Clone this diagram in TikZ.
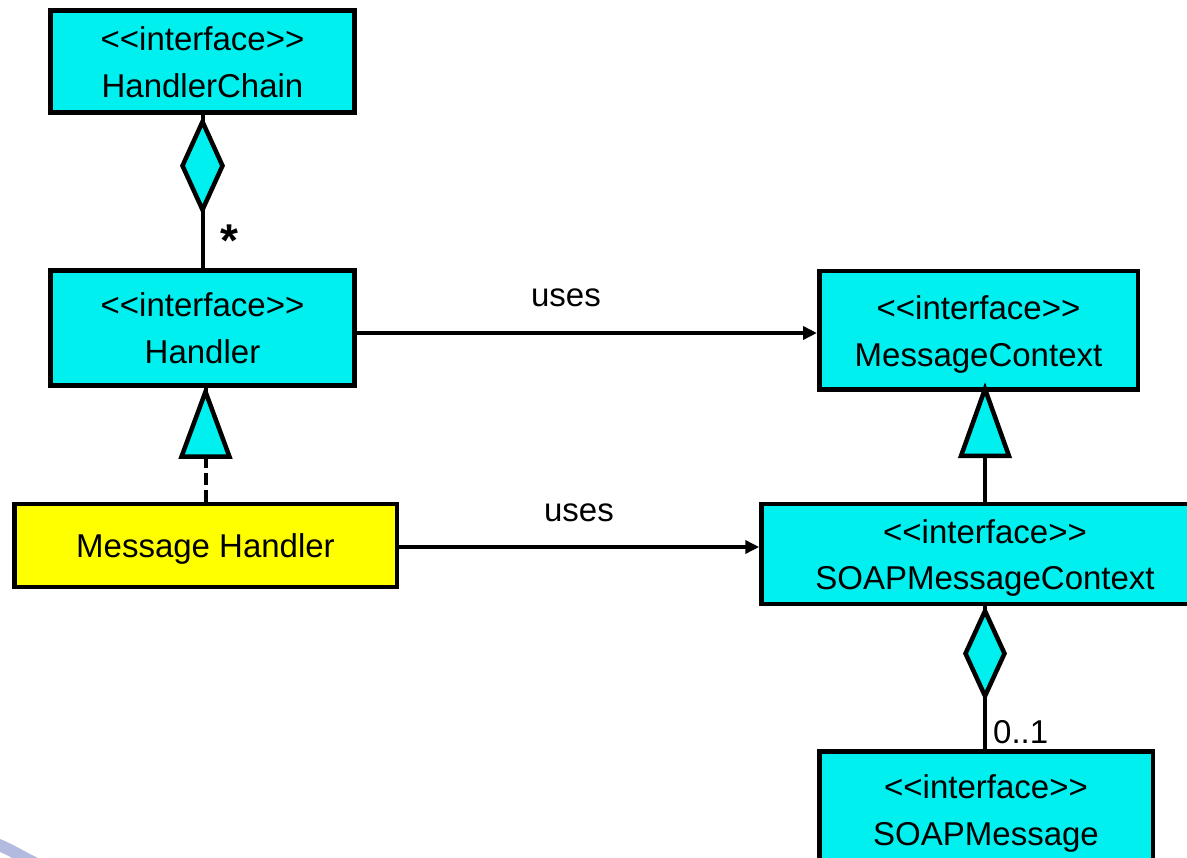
\documentclass[tikz,border=0pt]{standalone}
\usepackage{fontspec}
\setmainfont{Liberation Sans}
\usetikzlibrary{arrows.meta,calc}
\definecolor{boxcyan}{RGB}{0,240,240}
\definecolor{boxyellow}{RGB}{255,255,0}
\definecolor{arcblue}{RGB}{178,186,224}
\newcommand\mystrut{\rule[-8pt]{0pt}{41pt}}
\newcommand\stereo{<\kern0pt<interface>\kern0pt>}
\tikzset{
  cls/.style={draw, line width=4.5pt, fill=boxcyan, align=center, inner sep=0pt,
    font=\fontsize{33}{47}\selectfont},
  conn/.style={line width=4pt},
  realize/.style={line width=4pt, dash pattern=on 12pt off 5pt},
  usesarrow/.style={line width=4pt, -{Triangle[length=14pt,width=13pt]}},
  head/.style={draw, line width=4.5pt, fill=boxcyan, line join=miter},
  lbl/.style={font=\fontsize{33}{40}\selectfont, inner sep=0pt},
}
\begin{document}
\begin{tikzpicture}[x=1pt,y=-1pt]
\useasboundingbox (0,0) rectangle (1187,858);
\clip (0,0) rectangle (1187,858);
\fill[white] (0,0) rectangle (1187,858);
% background decoration
\fill[arcblue] (0,839) .. controls (15,845) and (25,852) .. (38,858) -- (12,858) .. controls (7,855) .. (0,852) -- cycle;

% classes
\node[cls, minimum width=304pt, minimum height=102pt] (hc) at (202.5,61.5) {\mystrut\stereo\\\mystrut HandlerChain};
\node[cls, minimum width=304pt, minimum height=115pt] (h) at (202.5,328) {\mystrut\stereo\\\mystrut Handler};
\node[cls, minimum width=318.5pt, minimum height=118.5pt] (mc) at (978.5,330.5) {\mystrut\stereo\\\mystrut MessageContext};
\node[cls, fill=boxyellow, minimum width=382.5pt, minimum height=82.5pt] (mh) at (205.5,545.5) {\mystrut Message Handler};
\node[cls, minimum width=447pt, minimum height=99.5pt] (smc) at (985,554) {\mystrut\stereo\\\mystrut SOAPMessageContext};
\node[cls, minimum width=333.5pt, minimum height=115pt] (sm) at (986,809) {\mystrut\stereo\\\mystrut SOAPMessage};

% aggregation HandlerChain - Handler
\draw[conn] (hc.south) -- (h.north);
\draw[head] ($(hc.south)+(0,7)$) -- ++(20,44) -- ++(-20,44) -- ++(-20,-44) -- cycle;
\node[lbl, font=\fontsize{46}{50}\selectfont\bfseries, anchor=base] (star) at (229,257) {*};

% aggregation SOAPMessageContext - SOAPMessage
\draw[conn] (smc.south) -- (smc.south |- sm.north);
\draw[head] ($(smc.south)+(0,5)$) -- ++(19.5,42.5) -- ++(-19.5,42.5) -- ++(-19.5,-42.5) -- cycle;
\node[lbl, anchor=base west] (mult) at (993,743) {0..1};

% realization Message Handler -> Handler
\draw[realize] (mh.north) -- (mh.north |- h.south);
\draw[head] ($(mh.north |- h.south)+(0,4)$) -- ++(24,65) -- ++(-48,0) -- cycle;

% generalization SOAPMessageContext -> MessageContext
\draw[conn] (smc.north) -- (smc.north |- mc.south);
\draw[head] ($(smc.north |- mc.south)+(0,-3)$) -- ++(24,67) -- ++(-48,0) -- cycle;

% uses
\draw[usesarrow] ([yshift=-5pt]h.east) -- ([yshift=-2.5pt]mc.west);
\node[lbl, anchor=base] (uses1) at (566,306.5) {uses};
\draw[usesarrow] ([yshift=-1.5pt]mh.east) -- ([yshift=7pt]smc.west);
\node[lbl, anchor=base] (uses2) at (579,521.5) {uses};
\end{tikzpicture}
\end{document}
